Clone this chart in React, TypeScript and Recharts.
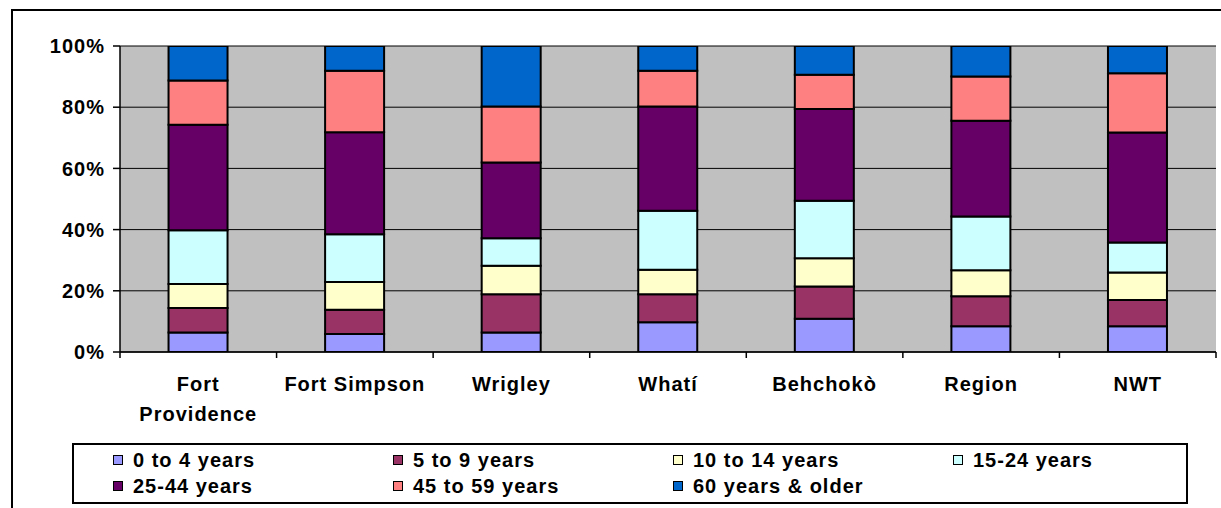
import React from 'react';
import { BarChart, Bar, XAxis, YAxis, CartesianGrid, Legend } from 'recharts';

const categories = ['Fort Providence', 'Fort Simpson', 'Wrigley', 'Whatí', 'Behchokò', 'Region', 'NWT'];

const age0to4 = [6.4, 5.9, 6.4, 9.7, 10.9, 8.4, 8.4];
const age5to9 = [8.0, 7.9, 12.5, 9.2, 10.5, 9.8, 8.6];
const age10to14 = [7.8, 9.1, 9.3, 8.0, 9.2, 8.5, 9.0];
const age15to24 = [17.6, 15.6, 9.0, 19.3, 18.8, 17.6, 9.8];
const age25to44 = [34.5, 33.3, 24.7, 34.0, 30.0, 31.3, 35.9];
const age45to59 = [14.4, 20.1, 18.3, 11.7, 11.2, 14.4, 19.4];
const age60plus = [11.3, 8.1, 19.8, 8.1, 9.4, 10.0, 8.9];

const seriesNames = ['0 to 4 years', '5 to 9 years', '10 to 14 years', '15-24 years', '25-44 years', '45 to 59 years', '60 years & older'];
const seriesValues = [age0to4, age5to9, age10to14, age15to24, age25to44, age45to59, age60plus];
const seriesColors = ['#9999FF', '#993366', '#FFFFCC', '#CCFFFF', '#660066', '#FF8080', '#0066CC'];

const yTicks = [0, 20, 40, 60, 80, 100];

const data = categories.map((c, i) => {
  const row: Record<string, string | number> = { category: c };
  seriesValues.forEach((vals, s) => {
    row['s' + s] = vals[i];
  });
  return row;
});

const FONT = '"Liberation Sans", Arial, Helvetica, sans-serif';
const W = 1221;
const H = 508;
const MARGIN = { top: 46, right: 5, bottom: 96, left: 0 };
const YW = 120;
const XH = 60;
const PLOT_W = W - MARGIN.left - MARGIN.right - YW;
const BAND = PLOT_W / categories.length;
const LABEL_MAX_W = 150;

let measureCtx: CanvasRenderingContext2D | null = null;
function measure(text: string): number {
  if (!measureCtx && typeof document !== 'undefined') {
    const c = document.createElement('canvas');
    measureCtx = c.getContext('2d');
  }
  if (!measureCtx) return text.length * 11;
  measureCtx.font = `bold 20px ${FONT}`;
  return measureCtx.measureText(text).width + text.length * 1;
}

function wrapLabel(label: string): string[] {
  const words = label.split(' ');
  const lines: string[] = [];
  let cur = '';
  words.forEach((w) => {
    const cand = cur ? cur + ' ' + w : w;
    if (cur && measure(cand) > LABEL_MAX_W) {
      lines.push(cur);
      cur = w;
    } else {
      cur = cand;
    }
  });
  if (cur) lines.push(cur);
  return lines;
}

const CategoryTick = (props: any) => {
  const { x, y, payload, index } = props;
  const half = BAND / 2;
  const lines = wrapLabel(String(payload.value));
  return (
    <g>
      <line x1={x - half} y1={y} x2={x - half} y2={y + 6} stroke="#000" strokeWidth={1.5} />
      {index === categories.length - 1 && (
        <line x1={x + half} y1={y} x2={x + half} y2={y + 6} stroke="#000" strokeWidth={1.5} />
      )}
      <text
        x={x}
        y={y + 39}
        textAnchor="middle"
        fontFamily={FONT}
        fontSize={20}
        fontWeight="bold"
        letterSpacing={1}
        fill="#000"
      >
        {lines.map((ln, k) => (
          <tspan key={k} x={x} dy={k === 0 ? 0 : 30}>
            {ln}
          </tspan>
        ))}
      </text>
    </g>
  );
};

const LegendContent = () => (
  <div
    style={{
      boxSizing: 'border-box',
      width: 1116,
      height: 61,
      border: '2px solid #000',
      background: '#fff',
      paddingLeft: 39,
      paddingTop: 2,
      display: 'grid',
      gridTemplateColumns: '280px 280px 280px 280px',
      gridAutoRows: '26px',
      fontFamily: FONT,
      fontSize: 20,
      fontWeight: 'bold',
      letterSpacing: 1,
      color: '#000',
    }}
  >
    {seriesNames.map((name, i) => (
      <div key={name} style={{ display: 'flex', alignItems: 'center', whiteSpace: 'nowrap' }}>
        <span
          style={{
            display: 'inline-block',
            width: 8,
            height: 8,
            border: '1px solid #000',
            background: seriesColors[i],
            marginRight: 10,
          }}
        />
        <span>{name}</span>
      </div>
    ))}
  </div>
);

export default function App() {
  return (
    <div
      style={{
        position: 'fixed',
        left: 0,
        top: 0,
        width: W,
        height: H,
        overflow: 'hidden',
        background: '#fff',
      }}
    >
      <div
        style={{
          position: 'absolute',
          left: 11,
          top: 9,
          width: 1400,
          height: 700,
          border: '2px solid #000',
        }}
      />
      <div style={{ position: 'absolute', left: 0, top: 0 }}>
        <BarChart width={W} height={H} data={data} margin={MARGIN} barCategoryGap="31%">
          <CartesianGrid yAxisId="l" horizontal={true} vertical={false} stroke="#000" strokeWidth={1} fill="#C0C0C0" fillOpacity={1} />
          <XAxis
            dataKey="category"
            height={XH}
            tickSize={0}
            tickMargin={0}
            tickLine={false}
            axisLine={{ stroke: '#000', strokeWidth: 1.5 }}
            interval={0}
            tick={<CategoryTick />}
          />
          <YAxis
            yAxisId="l"
            width={YW}
            domain={[0, 100]}
            ticks={yTicks}
            allowDataOverflow
            tickFormatter={(v: number) => `${v}%`}
            tickSize={7}
            tickMargin={8}
            tickLine={{ stroke: '#000', strokeWidth: 1.5 }}
            axisLine={{ stroke: '#000', strokeWidth: 1.5 }}
            tick={{ fill: '#000', fontFamily: FONT, fontSize: 20, fontWeight: 'bold', letterSpacing: 1 }}
          />
          <YAxis
            yAxisId="r"
            orientation="right"
            width={0}
            tick={false}
            tickLine={false}
            axisLine={{ stroke: '#808080', strokeWidth: 1.5 }}
          />
          {seriesNames.map((name, i) => (
            <Bar
              key={name}
              yAxisId="l"
              dataKey={'s' + i}
              name={name}
              stackId="a"
              fill={seriesColors[i]}
              stroke="#000"
              strokeWidth={2}
              isAnimationActive={false}
            />
          ))}
          <Legend
            layout="horizontal"
            verticalAlign="middle"
            align="center"
            content={<LegendContent />}
            wrapperStyle={{ left: 72, top: 443, width: 1116, height: 61 }}
          />
        </BarChart>
      </div>
    </div>
  );
}
